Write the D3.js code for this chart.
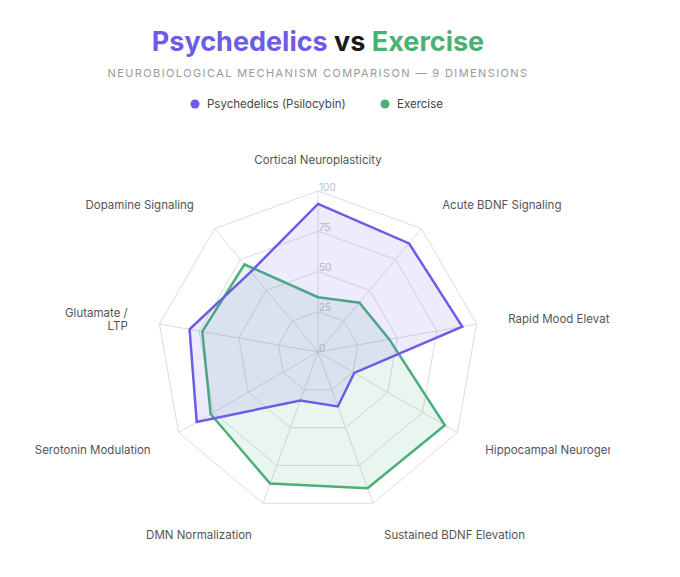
<!DOCTYPE html>
<html lang="en">
<head>
<meta charset="UTF-8">
<title>Psychedelics vs Exercise</title>
<script src="https://d3js.org/d3.v7.min.js"></script>
<style>
    body {
        margin: 0;
        background: #fff;
        font-family: Inter, "Open Sans", sans-serif;
    }
    svg {
        display: block;
        overflow: hidden;
    }
</style>
</head>
<body>
<svg id="chart" width="610" height="577"></svg>

<script>
    const axes = [
        "Cortical Neuroplasticity",
        "Acute BDNF Signaling",
        "Rapid Mood Elevation",
        "Hippocampal Neurogenesis",
        "Sustained BDNF Elevation",
        "DMN Normalization",
        "Serotonin Modulation",
        "Glutamate /\nLTP",
        "Dopamine Signaling"
    ];
    const psychedelics = [92, 88, 91, 26, 36, 32, 87, 81, 65];
    const exercise = [34, 40, 45, 91, 90, 87, 77, 73, 71];
    const ticks = [0, 25, 50, 75, 100];

    const seriesNames = ["Psychedelics (Psilocybin)", "Exercise"];
    const seriesColors = ["#6c5ce7", "#4caf78"];

    const cx = 318, cy = 352, R = 161;
    const svg = d3.select("#chart");

    // title
    const title = svg.append("text")
        .attr("x", cx).attr("y", 51)
        .attr("text-anchor", "middle")
        .style("font-size", "27px")
        .style("font-weight", 700);
    title.append("tspan").attr("fill", seriesColors[0]).text("Psychedelics");
    title.append("tspan").attr("fill", "#1a1a1a").text(" vs ");
    title.append("tspan").attr("fill", seriesColors[1]).text("Exercise");

    svg.append("text")
        .attr("x", cx).attr("y", 77)
        .attr("text-anchor", "middle")
        .attr("fill", "#999")
        .style("font-size", "11px")
        .style("letter-spacing", "1.4px")
        .text("NEUROBIOLOGICAL MECHANISM COMPARISON — 9 DIMENSIONS");

    // legend
    const legendX = [195, 385];
    seriesNames.forEach((name, i) => {
        const g = svg.append("g").attr("transform", `translate(${legendX[i]},104)`);
        g.append("circle").attr("r", 4.5).attr("fill", seriesColors[i]);
        g.append("text")
            .attr("x", 12).attr("dy", "0.35em")
            .attr("fill", "#444")
            .style("font-size", "11.5px")
            .text(name);
    });

    const r = d3.scaleLinear().domain([0, 100]).range([0, R]);
    const angle = d3.scaleLinear().domain([0, axes.length]).range([0, 2 * Math.PI]);
    const pt = (i, v) => [cx + r(v) * Math.sin(angle(i)), cy - r(v) * Math.cos(angle(i))];

    const grid = svg.append("g");

    // rings
    ticks.slice(1).forEach(t => {
        grid.append("polygon")
            .attr("points", axes.map((a, i) => pt(i, t).join(",")).join(" "))
            .attr("fill", "none")
            .attr("stroke", "#dcdcdc")
            .attr("stroke-width", 1);
    });

    // spokes
    axes.forEach((a, i) => {
        const [x, y] = pt(i, 100);
        grid.append("line")
            .attr("x1", cx).attr("y1", cy)
            .attr("x2", x).attr("y2", y)
            .attr("stroke", "#dcdcdc")
            .attr("stroke-width", 1);
    });

    // tick labels
    ticks.forEach(t => {
        grid.append("text")
            .attr("x", cx + 1)
            .attr("y", cy - r(t) - 4)
            .attr("dy", "0.35em")
            .attr("fill", "#c0c0c0")
            .style("font-size", "10px")
            .text(t);
    });

    // series
    const line = d3.line().curve(d3.curveLinearClosed);
    const fills = ["rgba(108,92,231,0.12)", "rgba(76,175,120,0.12)"];
    [exercise, psychedelics].forEach((vals, k) => {
        const idx = k === 0 ? 1 : 0;
        svg.append("path")
            .attr("d", line(vals.map((v, i) => pt(i, v))))
            .attr("fill", fills[idx])
            .attr("stroke", seriesColors[idx])
            .attr("stroke-width", 2.5)
            .attr("stroke-linejoin", "miter");
    });

    // axis labels
    axes.forEach((a, i) => {
        const [x, y] = pt(i, 120);
        const dx = x - cx;
        const anchor = Math.abs(dx) < 5 ? "middle" : dx > 0 ? "start" : "end";
        const lines = a.split("\n");
        const t = svg.append("text")
            .attr("x", x).attr("y", y + 1)
            .attr("text-anchor", anchor)
            .attr("fill", "#555")
            .style("font-size", "11.5px");
        lines.forEach((l, j) => {
            t.append("tspan")
                .attr("x", x)
                .attr("dy", j === 0 ? `${0.35 - (lines.length - 1) * 0.6}em` : "1.2em")
                .text(l);
        });
    });
</script>
</body>
</html>
